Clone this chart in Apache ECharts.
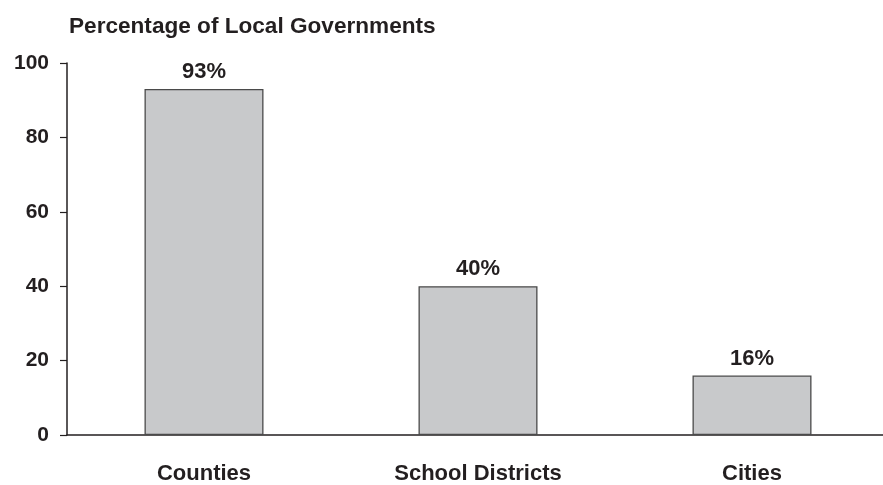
<!DOCTYPE html>
<html>
<head>
<meta charset="utf-8">
<script src="https://cdn.jsdelivr.net/npm/echarts@6/dist/echarts.min.js"></script>
<style>html,body{margin:0;padding:0;background:#fff;overflow:hidden;width:883px;height:485px}#wrap{width:883px;height:485px;overflow:hidden;position:relative}#c{width:889px;height:485px;position:absolute;left:0;top:0}</style>
</head>
<body>
<div id="wrap"><div id="c"></div></div>
<script>
const categories = ["Counties", "School Districts", "Cities"];
const values = [93, 40, 16];
const yTicks = [0, 20, 40, 60, 80, 100];
const titleText = "Percentage of Local Governments";

const chart = echarts.init(document.getElementById('c'), null, {renderer: 'canvas'});
const font = '"Liberation Sans", Arial, Helvetica, sans-serif';
const ink = '#231f20';
chart.setOption({
  animation: false,
  backgroundColor: '#fff',
  title: {
    text: titleText, left: 64, top: 10,
    textStyle: {fontFamily: font, fontWeight: 'bold', fontSize: 22.6, color: ink}
  },
  grid: {left: 67, right: 0, top: 63, bottom: 46, containLabel: false},
  xAxis: {
    type: 'category', data: categories,
    axisLine: {lineStyle: {color: ink, width: 1.5}},
    axisTick: {show: false},
    axisLabel: {margin: 28, fontFamily: font, fontWeight: 'bold', fontSize: 22, color: ink}
  },
  yAxis: {
    type: 'value', min: yTicks[0], max: yTicks[yTicks.length - 1], interval: 20,
    splitLine: {show: false},
    axisLine: {show: true, lineStyle: {color: ink, width: 1.5}},
    axisTick: {show: true, length: 7, lineStyle: {color: ink, width: 1.2}},
    axisLabel: {margin: 18, padding: [4, 0, 0, 0], fontFamily: font, fontWeight: 'bold', fontSize: 21, color: ink}
  },
  series: [{
    type: 'bar', data: values, barWidth: 119,
    itemStyle: {color: '#c8c9cb', borderColor: '#4a4a4a', borderWidth: 1.3},
    label: {show: true, position: 'top', distance: 6, formatter: '{c}%',
      fontFamily: font, fontWeight: 'bold', fontSize: 22, color: ink}
  }]
});
</script>
</body>
</html>
